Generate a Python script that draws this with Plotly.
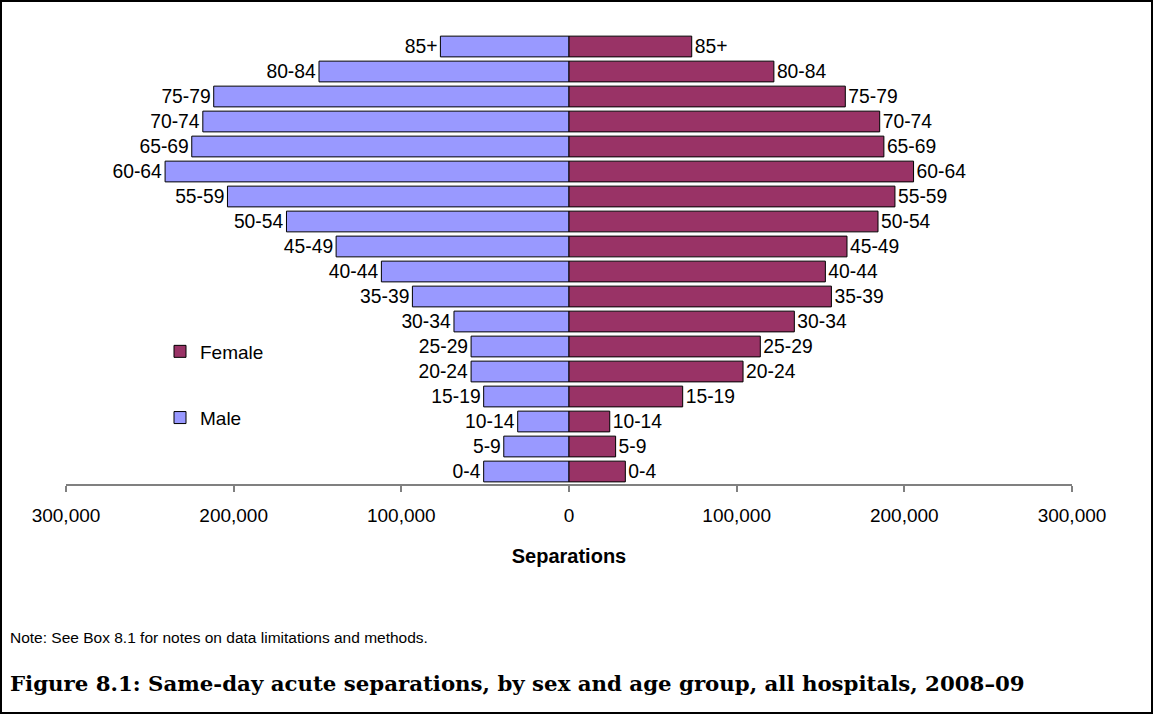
import plotly.graph_objects as go

age_groups = ["0-4", "5-9", "10-14", "15-19", "20-24", "25-29", "30-34", "35-39",
              "40-44", "45-49", "50-54", "55-59", "60-64", "65-69", "70-74", "75-79",
              "80-84", "85+"]
male = [50900, 38900, 30600, 50900, 58400, 58400, 68600, 93400, 111900, 138900,
        168500, 203700, 240900, 225000, 218400, 211900, 149100, 76700]
female = [33600, 27800, 24300, 67800, 103800, 114100, 134400, 156500, 152900, 165800,
          184300, 194400, 205500, 187800, 185300, 164800, 122200, 73200]
tick_values = [-300000, -200000, -100000, 0, 100000, 200000, 300000]
tick_labels = ["300,000", "200,000", "100,000", "0", "100,000", "200,000", "300,000"]

W, H = 1154, 715
L, R, T, B = 66, 1072, 34, 484


def px_x(p):
    return (p - L) / (R - L)


def px_y(p):
    return (B - p) / (B - T)


SANS = "Liberation Sans, Arial, sans-serif"
SERIF = "DejaVu Serif, serif"

fig = go.Figure()
fig.add_trace(go.Bar(
    y=age_groups, x=[-v for v in male], orientation="h", name="Male",
    marker=dict(color="#9999FF", line=dict(color="#000000", width=1)),
    text=age_groups, textposition="outside", constraintext="none",
    textfont=dict(family=SANS, size=19.3, color="#000000"),
    cliponaxis=False, legendgroup="m", legendrank=2, hoverinfo="skip",
))
fig.add_trace(go.Bar(
    y=age_groups, x=female, orientation="h", name="Female",
    marker=dict(color="#993366", line=dict(color="#000000", width=1)),
    text=age_groups, textposition="outside", constraintext="none",
    textfont=dict(family=SANS, size=19.3, color="#000000"),
    cliponaxis=False, legendgroup="f", legendrank=1, hoverinfo="skip",
))

fig.update_layout(
    width=W, height=H,
    margin=dict(l=L, r=W - R, t=T, b=H - B, pad=0),
    paper_bgcolor="white", plot_bgcolor="white",
    barmode="overlay", bargap=0.17,
    font=dict(family=SANS, size=19, color="#000000"),
    showlegend=True,
    legend=dict(
        x=px_x(160), y=px_y(332.5), xanchor="left", yanchor="top",
        traceorder="grouped", tracegroupgap=38.5,
        font=dict(family=SANS, size=19, color="#000000"),
        bgcolor="rgba(0,0,0,0)", borderwidth=0,
    ),
    xaxis=dict(
        range=[-300000, 300000], tickvals=tick_values, ticktext=tick_labels,
        showgrid=False, zeroline=False, showline=True, linecolor="#808080", linewidth=1.5,
        ticks="outside", ticklen=6, tickwidth=1.5, tickcolor="#808080",
        tickfont=dict(family=SANS, size=19, color="#000000"),
        ticklabelstandoff=7,
        title=dict(text="<b>Separations</b>", font=dict(family=SANS, size=20, color="#000000"),
                   standoff=24),
        fixedrange=True,
    ),
    yaxis=dict(
        range=[-0.5, 17.5], showticklabels=False, showgrid=False, zeroline=False,
        showline=False, ticks="", fixedrange=True,
    ),
    shapes=[
        dict(type="rect", xref="paper", yref="paper",
             x0=px_x(1), x1=px_x(1152), y0=px_y(1), y1=px_y(713),
             line=dict(color="#000000", width=2), fillcolor="rgba(0,0,0,0)", layer="above"),
    ],
    annotations=[
        dict(text="Note: See Box 8.1 for notes on data limitations and methods.",
             x=px_x(8), y=px_y(637), xref="paper", yref="paper",
             xanchor="left", yanchor="middle", showarrow=False,
             font=dict(family=SANS, size=15.5, color="#000000")),
        dict(text="<b>Figure 8.1: Same-day acute separations, by sex and age group, all hospitals, 2008–09</b>",
             x=px_x(8), y=px_y(683), xref="paper", yref="paper",
             xanchor="left", yanchor="middle", showarrow=False,
             font=dict(family=SERIF, size=21.3, color="#000000")),
    ],
)

fig.write_html("out.html", config={"displayModeBar": False},
               post_script="document.body.style.margin='0';document.body.style.overflow='hidden';")
